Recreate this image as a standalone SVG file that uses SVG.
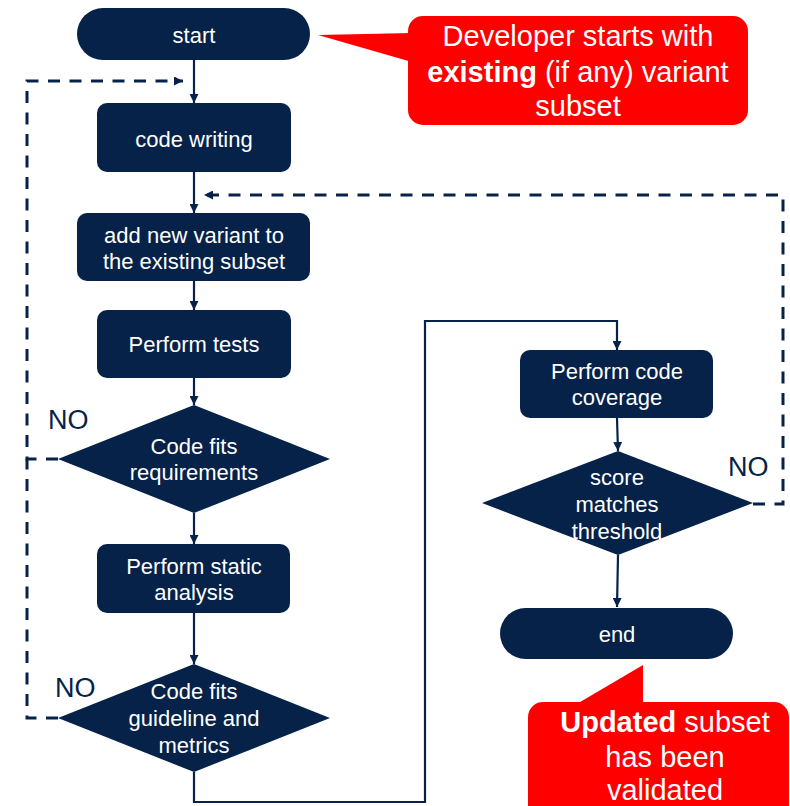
<svg xmlns="http://www.w3.org/2000/svg" width="790" height="806" viewBox="0 0 790 806">
<style>
.node{fill:#062248}
.t{fill:#fff;font-family:"Liberation Sans",Arial,sans-serif;font-size:22px;text-anchor:middle}
.no{fill:#062248;font-family:"Liberation Sans",Arial,sans-serif;font-size:27px}
.ct{fill:#fff;font-family:"Liberation Sans",Arial,sans-serif;font-size:29px;text-anchor:middle}
.b{font-weight:bold}
.solid{fill:none;stroke:#062248;stroke-width:2.2}
.dash{fill:none;stroke:#062248;stroke-width:3;stroke-dasharray:12 9.5}
</style>
<defs>
<marker id="ah" viewBox="0 0 10 10" refX="10" refY="5" markerWidth="9" markerHeight="9" markerUnits="userSpaceOnUse" orient="auto">
<path d="M0,0 L10,5 L0,10 z" fill="#062248"/>
</marker>
</defs>
<g id="connectors">
<path class="solid" d="M194,60 V103" marker-end="url(#ah)"/>
<path class="solid" d="M194,172 V213" marker-end="url(#ah)"/>
<path class="solid" d="M194,281 V310" marker-end="url(#ah)"/>
<path class="solid" d="M194,378 V405" marker-end="url(#ah)"/>
<path class="solid" d="M194,513 V544" marker-end="url(#ah)"/>
<path class="solid" d="M194,613 V664" marker-end="url(#ah)"/>
<path class="solid" d="M194,772 V802 H425 V321 H617 V350" marker-end="url(#ah)"/>
<path class="solid" d="M617,418 L618,451" marker-end="url(#ah)"/>
<path class="solid" d="M618,555 L617,607" marker-end="url(#ah)"/>
<path class="dash" d="M58,459 H27 V81 H183" marker-end="url(#ah)"/>
<path class="dash" d="M58,718 H27 V459"/>
<path class="dash" d="M753,504 H783 V195 H204" marker-end="url(#ah)"/>
</g>
<g id="start">
<rect class="node" x="77" y="8" width="233" height="52" rx="26"/>
<text class="t" x="194" y="43">start</text>
</g>
<g id="code-writing">
<rect class="node" x="97" y="103" width="194" height="69" rx="10"/>
<text class="t" x="194" y="147">code writing</text>
</g>
<g id="add-variant">
<rect class="node" x="77" y="213" width="233" height="68" rx="10"/>
<text class="t" x="194" y="243">add new variant to</text>
<text class="t" x="194" y="269">the existing subset</text>
</g>
<g id="perform-tests">
<rect class="node" x="97" y="310" width="194" height="68" rx="10"/>
<text class="t" x="194" y="352">Perform tests</text>
</g>
<g id="fits-requirements">
<polygon class="node" points="194,405 330,459 194,513 58,459"/>
<text class="t" x="194" y="454">Code fits</text>
<text class="t" x="194" y="480">requirements</text>
</g>
<g id="static-analysis">
<rect class="node" x="97" y="544" width="193" height="69" rx="10"/>
<text class="t" x="194" y="574">Perform static</text>
<text class="t" x="194" y="600">analysis</text>
</g>
<g id="fits-guideline">
<polygon class="node" points="194,664 330,718 194,772 58,718"/>
<text class="t" x="194" y="699">Code fits</text>
<text class="t" x="194" y="726">guideline and</text>
<text class="t" x="194" y="753">metrics</text>
</g>
<g id="code-coverage">
<rect class="node" x="520" y="350" width="193" height="68" rx="10"/>
<text class="t" x="617" y="379">Perform code</text>
<text class="t" x="617" y="405">coverage</text>
</g>
<g id="score-threshold">
<polygon class="node" points="618,451 753,503 618,555 482,503"/>
<text class="t" x="617" y="485">score</text>
<text class="t" x="617" y="512">matches</text>
<text class="t" x="617" y="539">threshold</text>
</g>
<g id="end">
<rect class="node" x="500" y="608" width="233" height="51" rx="25.5"/>
<text class="t" x="617" y="642">end</text>
</g>
<g id="labels">
<text class="no" x="48" y="429">NO</text>
<text class="no" x="55" y="697">NO</text>
<text class="no" x="728" y="476">NO</text>
</g>
<g id="callout-start">
<polygon points="318,35 412,33 412,62" fill="#ff0000"/>
<rect x="408" y="16" width="340" height="109" rx="15" fill="#ff0000"/>
<text class="ct" x="578" y="46">Developer starts with</text>
<text class="ct" x="578" y="82"><tspan class="b">existing</tspan> (if any) variant</text>
<text class="ct" x="578" y="116">subset</text>
</g>
<g id="callout-end">
<polygon points="643,665 575,705 643,705" fill="#ff0000"/>
<rect x="528" y="702" width="261" height="130" rx="15" fill="#ff0000"/>
<text class="ct" x="665" y="732"><tspan class="b">Updated</tspan> subset</text>
<text class="ct" x="665" y="767">has been</text>
<text class="ct" x="665" y="800">validated</text>
</g>
</svg>
